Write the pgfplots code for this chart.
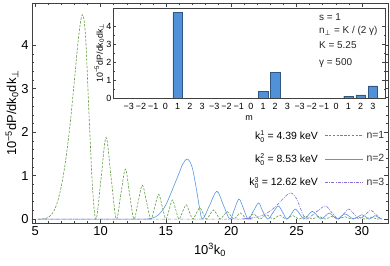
\documentclass[border=0pt]{standalone}
\usepackage{pgfplots}
\pgfplotsset{compat=1.18}
\usepackage{fontspec}
\setmainfont{Liberation Sans}
\newfontfamily\dejavu{DejaVu Sans}
\usetikzlibrary{calc}
\definecolor{cg}{RGB}{96,155,64}
\definecolor{cb}{RGB}{84,150,226}
\definecolor{cp}{RGB}{136,108,214}
\definecolor{cbar}{RGB}{80,145,215}
\newcommand{\perpc}{{\dejavu ⊥}}
\newcommand{\kk}[1]{k$_{\mbox{\scriptsize 0}}^{\mbox{\scriptsize #1}}$}
\begin{document}
\begin{tikzpicture}
\begin{axis}[name=main, scale only axis, width=356bp, height=220bp,
  xmin=4.75, xmax=32.0, ymin=-0.09, ymax=4.97,
  xtick={5,10,...,30}, ytick={0,...,4},
  minor x tick num=4, minor y tick num=4,
  tick align=inside, major tick length=4bp, minor tick length=2bp,
  axis line style={black!75, line width=0.6pt},
  every tick/.style={black!75, line width=0.4pt},
  tick label style={font=\fontsize{13}{15}\selectfont},
  /pgf/number format/assume math mode=true,
  every axis x label/.style={at={(axis description cs:0.5,-0.123)}, anchor=center},
  every axis y label/.style={at={(axis description cs:-0.056,0.5)}, anchor=center, rotate=90},
  xlabel={\fontsize{13}{15}\selectfont 10\textsuperscript{3}k\textsubscript{0}},
  ylabel={\fontsize{13}{15}\selectfont 10\textsuperscript{−5}dP/dk\textsubscript{0}dk\textsubscript{\perpc}},
  legend plot pos=right,
  legend style={at={(rel axis cs:0.99,0.43)}, anchor=north east, draw=none, fill=none,
    font=\fontsize{10.5}{12}\selectfont, row sep=9bp, inner sep=0pt, column sep=5bp},
  legend cell align=right,
]
\addplot[cg, line width=0.6pt, dash pattern=on 2.4bp off 1.4bp, smooth, tension=0.55,
  legend image code/.code={\draw[cg, line width=0.6pt, dash pattern=on 2.4bp off 1.4bp] (0bp,0bp) -- (38bp,0bp); \node[anchor=west, inner sep=0pt, text=black!80] at (41bp,0bp) {n=1};}]
coordinates {
(5.2,0) (5.6,0.005) (6.0,0.04) (6.4,0.17) (6.8,0.5) (7.2,1.1) (7.6,2.0) (8.0,3.2) (8.3,4.15) (8.6,4.7) (8.85,4.2) (9.13,2.3) (9.4,0.65) (9.66,0)
(10.04,0.94) (10.42,1.88) (10.81,0.94) (11.2,0)
(11.55,0.575) (11.9,1.15) (12.22,0.575) (12.55,0)
(12.87,0.39) (13.2,0.78) (13.52,0.39) (13.85,0)
(14.15,0.285) (14.45,0.57) (14.72,0.285) (15.0,0)
(15.25,0.22) (15.5,0.44) (15.75,0.22) (16.0,0)
(16.27,0.165) (16.55,0.33) (16.8,0.165) (17.05,0)
(17.32,0.13) (17.6,0.26) (17.85,0.13) (18.1,0)
(18.37,0.105) (18.65,0.21) (18.9,0.105) (19.15,0)
(19.42,0.085) (19.7,0.17) (19.95,0.085) (20.2,0)
(20.45,0.07) (20.7,0.14) (20.95,0.07) (21.2,0)
(21.45,0.06) (21.7,0.12) (21.95,0.06) (22.2,0)
(22.45,0.05) (22.7,0.1) (22.95,0.05) (23.2,0)
(23.45,0.045) (23.7,0.09) (23.95,0.045) (24.2,0)
(24.45,0.04) (24.7,0.08) (24.95,0.04) (25.2,0)
(25.45,0.035) (25.7,0.07) (25.95,0.035) (26.2,0)
(26.45,0.033) (26.7,0.065) (26.95,0.033) (27.2,0)
(27.45,0.03) (27.7,0.06) (27.95,0.03) (28.2,0)
(28.45,0.028) (28.7,0.055) (28.95,0.028) (29.2,0)
(29.45,0.025) (29.7,0.05) (29.95,0.025) (30.2,0)
(30.45,0.023) (30.7,0.045) (30.95,0.023) (31.2,0) (31.5,0.02)
};
\addlegendentry{\kk{1} = 4.39 keV}
\addplot[cb, line width=0.6pt, smooth, tension=0.55,
  legend image code/.code={\draw[cb, line width=0.6pt] (0bp,0bp) -- (38bp,0bp); \node[anchor=west, inner sep=0pt, text=black!80] at (41bp,0bp) {n=2};}]
coordinates {
(5.2,0) (13.0,0) (13.7,0.01) (14.2,0.05) (14.6,0.15) (15.0,0.33) (15.5,0.68) (16.0,1.05) (16.3,1.27) (16.65,1.38) (17.0,1.2) (17.3,0.75) (17.55,0.3) (17.8,0)
(18.35,0.32) (18.9,0.64) (19.4,0.32) (19.9,0)
(20.25,0.23) (20.6,0.46) (20.95,0.23) (21.3,0)
(21.7,0.185) (22.1,0.37) (22.4,0.185) (22.8,0)
(23.2,0.15) (23.6,0.3) (23.95,0.15) (24.25,0)
(24.6,0.115) (24.9,0.23) (25.25,0.115) (25.55,0)
(25.9,0.09) (26.2,0.18) (26.55,0.09) (26.85,0)
(27.2,0.07) (27.5,0.14) (27.8,0.07) (28.1,0)
(28.4,0.06) (28.7,0.12) (29.05,0.06) (29.35,0)
(29.7,0.05) (30.0,0.1) (30.3,0.05) (30.55,0)
(30.8,0.04) (31.0,0.08) (31.25,0.04) (31.5,0)
};
\addlegendentry{\kk{2} = 8.53 keV}
\addplot[cp, line width=0.6pt, dash pattern=on 3bp off 1.2bp on 0.8bp off 1.2bp, smooth, tension=0.55,
  legend image code/.code={\draw[cp, line width=0.6pt, dash pattern=on 3bp off 1.2bp on 0.8bp off 1.2bp] (0bp,0bp) -- (38bp,0bp); \node[anchor=west, inner sep=0pt, text=black!80] at (41bp,0bp) {n=3};}]
coordinates {
(5.2,0) (20.5,0) (21.0,0.01) (21.5,0.025) (22.0,0.05) (22.5,0.1) (23.0,0.19) (23.5,0.32) (24.0,0.48) (24.55,0.6) (25.0,0.47) (25.4,0.17) (25.75,0)
(26.45,0.15) (27.2,0.3) (27.7,0.15) (28.2,0)
(28.6,0.115) (29.0,0.23) (29.4,0.115) (29.8,0)
(30.25,0.1) (30.7,0.2) (31.1,0.1) (31.5,0)
};
\addlegendentry{\kk{3} = 12.62 keV}
\end{axis}
\begin{axis}[name=inset, at={($(main.south west)+(81bp,125bp)$)}, anchor=south west,
  scale only axis, width=272bp, height=90bp,
  xmin=-1.3, xmax=21.0, ymin=0, ymax=5.0,
  ytick={0,...,4}, minor y tick num=1,
  xtick={0,...,20},
  xticklabels={−3,−2,−1,0,1,2,3,−3,−2,−1,0,1,2,3,−3,−2,−1,0,1,2,3},
  xtick style={draw=none},
  ytick pos=both, yticklabel pos=left,
  tick align=inside, major tick length=3bp, minor tick length=1.5bp,
  axis line style={black!75, line width=0.6pt},
  every tick/.style={black!75, line width=0.4pt},
  axis background/.style={fill=white},
  tick label style={font=\fontsize{9}{10}\selectfont},
  xticklabel style={inner sep=1pt, yshift=-1.5bp},
  yticklabel style={inner sep=1.5pt},
  /pgf/number format/assume math mode=true,
  every axis x label/.style={at={(axis description cs:0.5,-0.225)}, anchor=center},
  every axis y label/.style={at={(axis description cs:-0.05,0.5)}, anchor=center, rotate=90},
  xlabel={\fontsize{9}{10}\selectfont m},
  ylabel={\fontsize{8.8}{10}\selectfont 10\textsuperscript{−5}dP/dk\textsubscript{0}dk\textsubscript{\perpc}},
  ybar, bar width=0.78,
]
\addplot[fill=cbar, draw=cbar!60!black, line width=0.3pt] coordinates {(4,4.75) (11,0.38) (12,1.44) (18,0.1) (19,0.17) (20,0.67)};
\node[anchor=west, font=\fontsize{10}{12}\selectfont, text=black!85] at (rel axis cs:0.745,0.90) {s = 1};
\node[anchor=west, font=\fontsize{10}{12}\selectfont, text=black!85] at (rel axis cs:0.745,0.745) {n\textsubscript{\perpc} = K / (2 γ)};
\node[anchor=west, font=\fontsize{10}{12}\selectfont, text=black!85] at (rel axis cs:0.745,0.59) {K = 5.25};
\node[anchor=west, font=\fontsize{10}{12}\selectfont, text=black!85] at (rel axis cs:0.745,0.39) {γ = 500};
\end{axis}
\pgfresetboundingbox
\path[use as bounding box] ($(main.south west)+(-32bp,-43bp)$) rectangle ($(main.north east)+(2bp,3bp)$);
\end{tikzpicture}
\end{document}
